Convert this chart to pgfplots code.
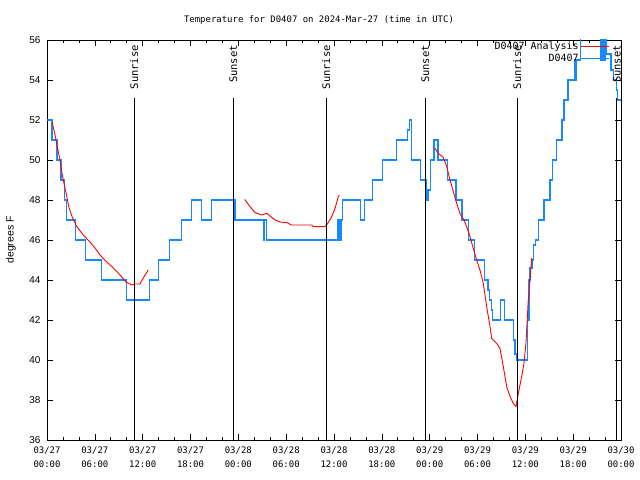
\documentclass[border=0pt]{standalone}
\usepackage{pgfplots}
\pgfplotsset{compat=1.18}
\usepackage{fontspec}
\setmainfont{DejaVu Sans Mono}
\newfontfamily\sansf{Liberation Sans}
\definecolor{obsblue}{RGB}{24,136,255}
\begin{document}
\begin{tikzpicture}
\path[use as bounding box] (-47bp,-40bp) rectangle (593bp,440bp);
\begin{axis}[
  scale only axis, width=574bp, height=400bp,
  at={(0,0)}, anchor=south west,
  xmin=0, xmax=72, ymin=36, ymax=56,
  xtick={0,6,...,72},
  xticklabels={{03/27\\00:00},{03/27\\06:00},{03/27\\12:00},{03/27\\18:00},{03/28\\00:00},{03/28\\06:00},{03/28\\12:00},{03/28\\18:00},{03/29\\00:00},{03/29\\06:00},{03/29\\12:00},{03/29\\18:00},{03/30\\00:00}},
  xticklabel style={align=center, font=\fontsize{9}{14}\selectfont, yshift=-3bp},
  minor x tick num=2,
  ytick={36,38,...,56},
  yticklabel style={font=\sansf\fontsize{10}{11}\selectfont, xshift=-3bp},
  /pgf/number format/assume math mode=true,
  major tick length=6bp, minor tick length=3bp,
  tick style={black, line width=0.6bp},
  axis line style={black, line width=0.8bp},
  unbounded coords=jump,
  legend plot pos=right,
  legend cell align=right,
  reverse legend,
  legend image code/.code={\draw[#1] (0bp,0bp) -- (28bp,0bp);},
  legend style={draw=none, fill=none, at={(1,1)}, anchor=north east, xshift=-10bp, yshift=1bp,
    font=\fontsize{10}{11}\selectfont, row sep=-1.5bp, inner sep=1bp},
]
% observations
\addplot[const plot, obsblue, line width=1.3bp] coordinates {
(0,52) (0.62,51) (1.25,50) (1.75,49) (2.2,48) (2.45,47) (3.55,46) (4.8,45) (6.85,44) (9.95,43)
(12.85,44) (13.95,45) (15.35,46) (16.85,47) (18.1,48) (19.4,47) (20.65,48) (23.6,47)
(27.15,46) (27.3,47) (27.5,46) (36.5,47) (36.75,46) (36.9,47) (37.1,48) (39.35,47) (39.85,48)
(40.85,49) (42.1,50) (43.8,51) (45.25,51.5) (45.45,52) (45.7,50) (46.85,49) (47.55,48) (47.8,48.5)
(48.1,50) (48.55,51) (49.05,50) (50.25,49) (51.3,48) (52.05,47) (52.85,46) (53.6,45) (54.85,44)
(55.3,43.5) (55.5,43) (55.75,42.5) (55.9,42) (56.85,43) (57.35,42) (58.5,41) (58.7,40.3) (58.9,40)
(60.3,42) (60.45,44) (60.6,44.6) (60.85,45) (61.05,45.75) (61.25,46) (61.65,47) (62.35,48)
(63.1,49) (63.45,50) (63.95,51) (64.6,52) (64.85,53) (65.35,54) (66.2,55) (66.35,54) (66.45,55)
(66.9,57) (69.5,55) (69.7,57) (69.85,55) (70.05,57) (70.2,55.3) (70.75,54.5) (71.05,54)
(71.4,53.5) (71.6,53) (72,53)
};
\addlegendentry{D0407}
% analysis
\addplot[red, line width=0.9bp] coordinates {
(0.63,51.9) (0.97,51.33) (1.29,50.67) (1.63,50.0) (1.88,49.33) (2.13,48.83) (2.47,48.2) (2.72,47.67)
(3.14,47.17) (3.73,46.67) (4.55,46.25) (5.39,45.9) (6.02,45.6) (6.65,45.25) (7.49,44.9) (8.32,44.6)
(9.16,44.25) (9.91,43.9) (10.62,43.75) (11.04,43.8) (11.67,43.8) (12.08,44.1) (12.71,44.5)
(13,nan)
(24.8,48.03) (25.46,47.67) (26.09,47.37) (26.93,47.25) (27.56,47.33) (27.97,47.2) (28.6,47.0)
(29.23,46.9) (30.07,46.87) (30.69,46.75) (33.2,46.75) (33.4,46.67) (34.87,46.67) (35.29,46.87)
(35.71,47.17) (36.13,47.58) (36.54,48.17) (36.67,48.25)
(37,nan)
(48.67,50.58) (49.08,50.33) (49.71,50.13) (50.14,49.67) (50.55,49.0) (50.97,48.42) (51.39,47.83)
(51.8,47.33) (52.31,47.0) (52.64,46.67) (53.06,46.17) (53.47,45.58) (53.9,45.0) (54.31,44.5)
(54.73,43.83) (55.15,42.67) (55.57,41.67) (55.78,41.08) (56.41,40.83) (56.82,40.58) (57.24,39.67)
(57.66,38.67) (58.08,38.17) (58.49,37.83) (58.83,37.67) (59.12,38.33) (59.54,39.17) (59.83,39.83)
(60.08,40.83) (60.37,43.0) (60.59,44.0) (60.80,45.1)
};
\addlegendentry{D0407 Analysis}
% sunrise / sunset
\addplot[black, line width=1bp, forget plot] coordinates {(10.95,36) (10.95,53.1)};
\addplot[black, line width=1bp, forget plot] coordinates {(23.37,36) (23.37,53.1)};
\addplot[black, line width=1bp, forget plot] coordinates {(35.04,36) (35.04,53.1)};
\addplot[black, line width=1bp, forget plot] coordinates {(47.45,36) (47.45,53.1)};
\addplot[black, line width=1bp, forget plot] coordinates {(58.99,36) (58.99,53.1)};
\addplot[black, line width=1bp, forget plot] coordinates {(71.46,36) (71.46,53.1)};
\node[rotate=90, anchor=east, inner sep=0pt, font=\fontsize{10.5}{12}\selectfont] at (axis cs:10.95,55.75) {Sunrise};
\node[rotate=90, anchor=east, inner sep=0pt, font=\fontsize{10.5}{12}\selectfont] at (axis cs:23.37,55.75) {Sunset};
\node[rotate=90, anchor=east, inner sep=0pt, font=\fontsize{10.5}{12}\selectfont] at (axis cs:35.04,55.75) {Sunrise};
\node[rotate=90, anchor=east, inner sep=0pt, font=\fontsize{10.5}{12}\selectfont] at (axis cs:47.45,55.75) {Sunset};
\node[rotate=90, anchor=east, inner sep=0pt, font=\fontsize{10.5}{12}\selectfont] at (axis cs:58.99,55.75) {Sunrise};
\node[rotate=90, anchor=east, inner sep=0pt, font=\fontsize{10.5}{12}\selectfont] at (axis cs:71.46,55.75) {Sunset};
\end{axis}
\node[font=\fontsize{9}{11}\selectfont] at (272bp,420bp) {Temperature for D0407 on 2024-Mar-27 (time in UTC)};
\node[rotate=90, font=\sansf\fontsize{10.5}{12}\selectfont] at (-36bp,200bp) {degrees F};
\end{tikzpicture}
\end{document}
